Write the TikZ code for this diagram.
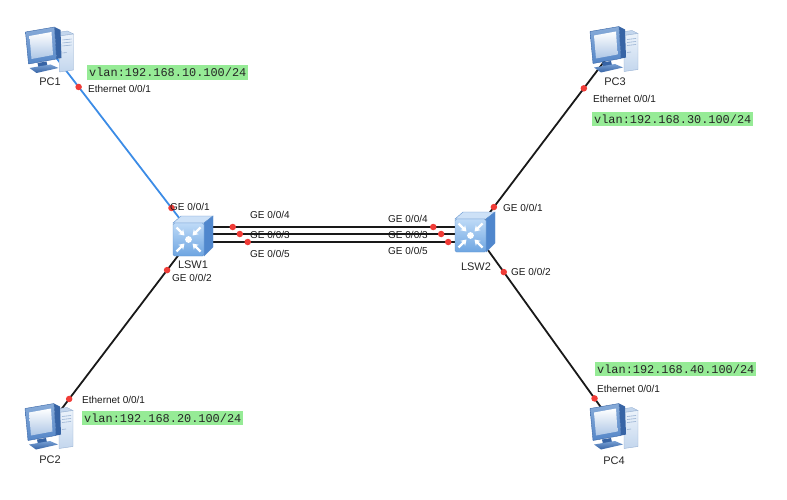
\documentclass[tikz,border=0pt]{standalone}
\usepackage{fontspec}
\setmainfont{Liberation Sans}
\newfontfamily\vlanfont{Liberation Mono}
\usetikzlibrary{arrows.meta}
\definecolor{linkblue}{RGB}{60,140,230}
\definecolor{dotred}{RGB}{240,60,55}
\definecolor{vlangreen}{RGB}{150,235,150}
\definecolor{bezel}{RGB}{85,135,200}
\definecolor{bezeldark}{RGB}{55,100,165}
\definecolor{towerlight}{RGB}{236,243,251}
\definecolor{towermid}{RGB}{195,214,237}
\definecolor{toweredge}{RGB}{150,176,210}
\definecolor{swtop}{RGB}{205,225,247}
\definecolor{swside}{RGB}{80,135,205}
\definecolor{swfronttop}{RGB}{190,218,247}
\definecolor{swfrontbot}{RGB}{110,165,225}
\definecolor{swedge}{RGB}{95,145,205}
\tikzset{
  iconbox/.style={inner sep=0pt, minimum width=48pt, minimum height=46pt},
  swbox/.style={inner sep=0pt, minimum width=40pt, minimum height=40pt},
  devlabel/.style={inner sep=0pt, font=\fontsize{11}{12}\selectfont, text=black!85},
  portlabel/.style={inner sep=0pt, font=\fontsize{10}{11}\selectfont, text=black!90},
  vlanlabel/.style={fill=vlangreen, inner xsep=2pt, inner ysep=2.8pt, font=\vlanfont\fontsize{11.9}{12}\selectfont, text=black!85},
  link/.style={line width=1.8pt, black!90},
  bluelink/.style={line width=1.8pt, linkblue},
  portdot/.style={circle, fill=dotred, inner sep=0pt, minimum size=6.5pt},
  pcicon/.pic={
    \begin{scope}[shift={(-24,-23)}]
      % tower
      \fill[towermid, draw=toweredge, line width=0.4pt] (28,7) -- (42,5) -- (48,8) -- (34,10) -- cycle;
      \shade[top color=towerlight, bottom color=towermid, draw=toweredge, line width=0.4pt] (34,10) -- (48,8) -- (48,44) -- (34,46) -- cycle;
      \draw[toweredge, line width=0.6pt] (37,14) -- (46,13) (37,17) -- (46,16) (37,20) -- (46,19) (37,27) -- (41,26.5);
      % monitor depth
      \fill[bezeldark] (29,1) -- (35,4) -- (36,32) -- (31,33) -- cycle;
      % bezel
      \shade[top color=bezel!70, bottom color=bezel, draw=bezeldark, line width=0.4pt] (0,6) -- (29,1) -- (31,33) -- (3,38) -- cycle;
      % screen
      \shade[top color=white, bottom color=towermid!80!bezel] (4,10) -- (26,6) -- (27.5,29) -- (6,33) -- cycle;
      % neck
      \fill[bezeldark] (12,37) -- (21,35.5) -- (22,40) -- (13,41.5) -- cycle;
      % base
      \shade[top color=bezel!80, bottom color=bezeldark] (4,42) -- (25,38.5) -- (33,42) -- (11,47) -- cycle;
    \end{scope}
  },
  swicon/.pic={
    \begin{scope}[shift={(-20,-20)}]
      \fill[swtop, draw=swedge, line width=0.4pt] (0,7) -- (8,0) -- (40,0) -- (31,7) -- cycle;
      \fill[swside, draw=swedge, line width=0.4pt] (31,7) -- (40,0) -- (40,31) -- (31,40) -- cycle;
      \shade[top color=swfronttop, bottom color=swfrontbot, draw=swedge, line width=0.4pt, rounded corners=1.5pt] (0,7) rectangle (31,40);
      \fill[white] (15.5,23.5) circle (3.4);
      \begin{scope}[white, line width=2.2pt, -{Stealth[length=5.5pt,width=7pt]}]
        \draw (3.5,11.5) -- (11.5,19.5);
        \draw (27.5,11.5) -- (19.5,19.5);
        \draw (3.5,35.5) -- (11.5,27.5);
        \draw (27.5,35.5) -- (19.5,27.5);
      \end{scope}
    \end{scope}
  }
}
\begin{document}
\begin{tikzpicture}[x=1pt, y=-1pt]
  \useasboundingbox (0,0) rectangle (787,500);
  % device nodes
  \node[iconbox] (pc1) at (49.5,49) {};
  \node[iconbox] (pc2) at (49,425.5) {};
  \node[iconbox] (pc3) at (614,48.5) {};
  \node[iconbox] (pc4) at (614,425.5) {};
  \node[swbox] (lsw1) at (193,236) {};
  \node[swbox] (lsw2) at (475,232) {};
  % links
  \draw[bluelink] (pc1.center) -- node[portdot, pos=0.203] (d11) {} node[portdot, pos=0.85] (d12) {} (lsw1.center);
  \draw[link] (pc2.center) -- node[portdot, pos=0.14] (d21) {} node[portdot, pos=0.82] (d22) {} (lsw1.center);
  \draw[link] (lsw2.center) -- node[portdot, pos=0.136] (d31) {} node[portdot, pos=0.783] (d32) {} (pc3.center);
  \draw[link] (lsw2.center) -- node[portdot, pos=0.207] (d41) {} node[portdot, pos=0.86] (d42) {} (pc4.center);
  \draw[link] ([yshift=9pt]lsw1.center) -- node[portdot, pos=0.141] {} node[portdot, pos=0.852] {} ([yshift=5pt]lsw2.center);
  \draw[link] ([yshift=2pt]lsw1.center) -- node[portdot, pos=0.166] {} node[portdot, pos=0.880] {} ([yshift=-2pt]lsw2.center);
  \draw[link] ([yshift=-6pt]lsw1.center) -- node[portdot, pos=0.194] {} node[portdot, pos=0.905] {} ([yshift=-10pt]lsw2.center);
  % icons
  \pic at (pc1.center) {pcicon};
  \pic at (pc2.center) {pcicon};
  \pic at (pc3.center) {pcicon};
  \pic at (pc4.center) {pcicon};
  \pic at (lsw1.center) {swicon};
  \pic at (lsw2.center) {swicon};
  % device labels
  \node[devlabel] (pc1l) at (50,82) {PC1};
  \node[devlabel] (pc2l) at (50,460) {PC2};
  \node[devlabel] (pc3l) at (615,82) {PC3};
  \node[devlabel] (pc4l) at (614,461) {PC4};
  \node[devlabel] (lsw1l) at (193,265) {LSW1};
  \node[devlabel] (lsw2l) at (476,267) {LSW2};
  % port labels
  \node[portlabel, anchor=west] (e1) at (88,89) {Ethernet 0/0/1};
  \node[portlabel, anchor=west] (e2) at (82,400) {Ethernet 0/0/1};
  \node[portlabel, anchor=west] (e3) at (593,99) {Ethernet 0/0/1};
  \node[portlabel, anchor=west] (e4) at (597,389) {Ethernet 0/0/1};
  \node[portlabel, anchor=west] (g11) at (170,207) {GE 0/0/1};
  \node[portlabel, anchor=west] (g12) at (172,278) {GE 0/0/2};
  \node[portlabel, anchor=west] (g14) at (250,215) {GE 0/0/4};
  \node[portlabel, anchor=west] (g13) at (250,235) {GE 0/0/3};
  \node[portlabel, anchor=west] (g15) at (250,254) {GE 0/0/5};
  \node[portlabel, anchor=west] (g24) at (388,219) {GE 0/0/4};
  \node[portlabel, anchor=west] (g23) at (388,235) {GE 0/0/3};
  \node[portlabel, anchor=west] (g25) at (388,251) {GE 0/0/5};
  \node[portlabel, anchor=west] (g21) at (503,208) {GE 0/0/1};
  \node[portlabel, anchor=west] (g22) at (511,272) {GE 0/0/2};
  % vlan labels
  \node[vlanlabel, anchor=west] (v1) at (87,72.5) {vlan:192.168.10.100/24};
  \node[vlanlabel, anchor=west] (v2) at (82,418) {vlan:192.168.20.100/24};
  \node[vlanlabel, anchor=west] (v3) at (592,119) {vlan:192.168.30.100/24};
  \node[vlanlabel, anchor=west] (v4) at (595,369) {vlan:192.168.40.100/24};
\end{tikzpicture}
\end{document}
